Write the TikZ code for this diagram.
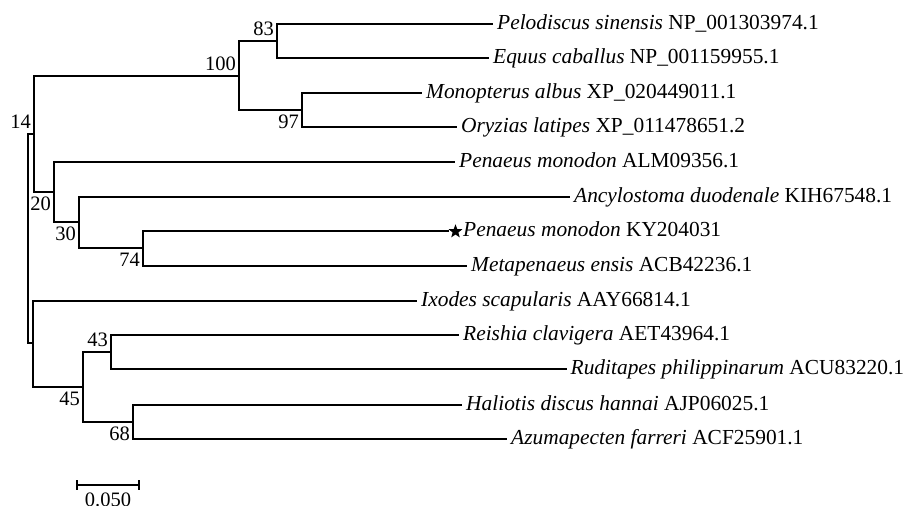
\documentclass[tikz,border=0pt]{standalone}
\usepackage{fontspec}
\setmainfont{Liberation Serif}
\usetikzlibrary{calc,shapes.geometric}
\tikzset{
  br/.style={line width=2pt, line join=miter},
  leaf/.style={anchor=base west, inner sep=0pt, font=\fontsize{21.4}{22}\selectfont},
  bs/.style={anchor=base east, inner sep=0pt, font=\fontsize{20.5}{21}\selectfont},
}
\begin{document}
\begin{tikzpicture}[x=1pt,y=-1pt]
\useasboundingbox (0,0) rectangle (906,506);
% leaf ends
\coordinate (e1) at (493,24);
\coordinate (e2) at (489,58);
\coordinate (e3) at (422,93);
\coordinate (e4) at (457,127);
\coordinate (e5) at (455,162);
\coordinate (e6) at (570,197);
\coordinate (e7) at (449,231);
\coordinate (e8) at (467,266);
\coordinate (e9) at (417,301);
\coordinate (e10) at (459,335);
\coordinate (e11) at (567,369);
\coordinate (e12) at (462,405);
\coordinate (e13) at (507,439);
% internal nodes
\coordinate (N83) at (277,41);
\coordinate (N97) at (302,110);
\coordinate (N100) at (239,76);
\coordinate (N74) at (143,248);
\coordinate (N30) at (79,222);
\coordinate (N20) at (54,192);
\coordinate (N14) at (34,134);
\coordinate (N43) at (111,352);
\coordinate (N68) at (133,422);
\coordinate (N45) at (83,387);
\coordinate (NL) at (33,343);
\coordinate (R) at (28,238);
% branches
\draw[br] (R) |- (N14); \draw[br] (R) |- (NL);
\draw[br] (N14) |- (N100); \draw[br] (N14) |- (N20);
\draw[br] (N100) |- (N83); \draw[br] (N100) |- (N97);
\draw[br] (N83) |- (e1); \draw[br] (N83) |- (e2);
\draw[br] (N97) |- (e3); \draw[br] (N97) |- (e4);
\draw[br] (N20) |- (e5); \draw[br] (N20) |- (N30);
\draw[br] (N30) |- (e6); \draw[br] (N30) |- (N74);
\draw[br] (N74) |- (e7); \draw[br] (N74) |- (e8);
\draw[br] (NL) |- (e9); \draw[br] (NL) |- (N45);
\draw[br] (N45) |- (N43); \draw[br] (N45) |- (N68);
\draw[br] (N43) |- (e10); \draw[br] (N43) |- (e11);
\draw[br] (N68) |- (e12); \draw[br] (N68) |- (e13);
% leaf labels
\node[leaf] (t1) at ($(e1)+(4,5)$) {\textit{Pelodiscus sinensis} NP\_001303974.1};
\node[leaf] (t2) at ($(e2)+(4,5)$) {\textit{Equus caballus} NP\_001159955.1};
\node[leaf] (t3) at ($(e3)+(4,5)$) {\textit{Monopterus albus} XP\_020449011.1};
\node[leaf] (t4) at ($(e4)+(4,5)$) {\textit{Oryzias latipes} XP\_011478651.2};
\node[leaf] (t5) at ($(e5)+(4,5)$) {\textit{Penaeus monodon} ALM09356.1};
\node[leaf] (t6) at ($(e6)+(4,5)$) {\textit{Ancylostoma duodenale} KIH67548.1};
\node[star, star points=5, star point ratio=2.4, fill=black, inner sep=0pt, minimum size=14.5pt] (st) at ($(e7)+(6.5,0.5)$) {};
\node[leaf] (t7) at ($(e7)+(14,5)$) {\textit{Penaeus monodon} KY204031};
\node[leaf] (t8) at ($(e8)+(4,5)$) {\textit{Metapenaeus ensis} ACB42236.1};
\node[leaf] (t9) at ($(e9)+(4,5)$) {\textit{Ixodes scapularis} AAY66814.1};
\node[leaf] (t10) at ($(e10)+(4,5)$) {\textit{Reishia clavigera} AET43964.1};
\node[leaf] (t11) at ($(e11)+(3.5,5)$) {\textit{Ruditapes philippinarum} ACU83220.1};
\node[leaf] (t12) at ($(e12)+(4,5)$) {\textit{Haliotis discus hannai} AJP06025.1};
\node[leaf] (t13) at ($(e13)+(4,5)$) {\textit{Azumapecten farreri} ACF25901.1};
% bootstrap values
\node[bs] (b83) at ($(N83)+(-3,-5.5)$) {83};
\node[bs] (b100) at ($(N100)+(-3,-5.5)$) {100};
\node[bs] (b14) at ($(N14)+(-3,-5.5)$) {14};
\node[bs] (b43) at ($(N43)+(-3,-5.5)$) {43};
\node[bs] (b97) at ($(N97)+(-3,18)$) {97};
\node[bs] (b20) at ($(N20)+(-3,18)$) {20};
\node[bs] (b30) at ($(N30)+(-3,18)$) {30};
\node[bs] (b74) at ($(N74)+(-3,18)$) {74};
\node[bs] (b45) at ($(N45)+(-3,18)$) {45};
\node[bs] (b68) at ($(N68)+(-3,18)$) {68};
% scale bar
\coordinate (s1) at (77,485);
\coordinate (s2) at (139,485);
\draw[br] (s1) -- (s2);
\draw[br] ($(s1)+(0,-5)$) -- ($(s1)+(0,5)$);
\draw[br] ($(s2)+(0,-5)$) -- ($(s2)+(0,5)$);
\node[anchor=north, inner sep=0pt, font=\fontsize{20.5}{21}\selectfont] (sl) at ($(s1)!0.5!(s2)+(0,8)$) {0.050};
\end{tikzpicture}
\end{document}
